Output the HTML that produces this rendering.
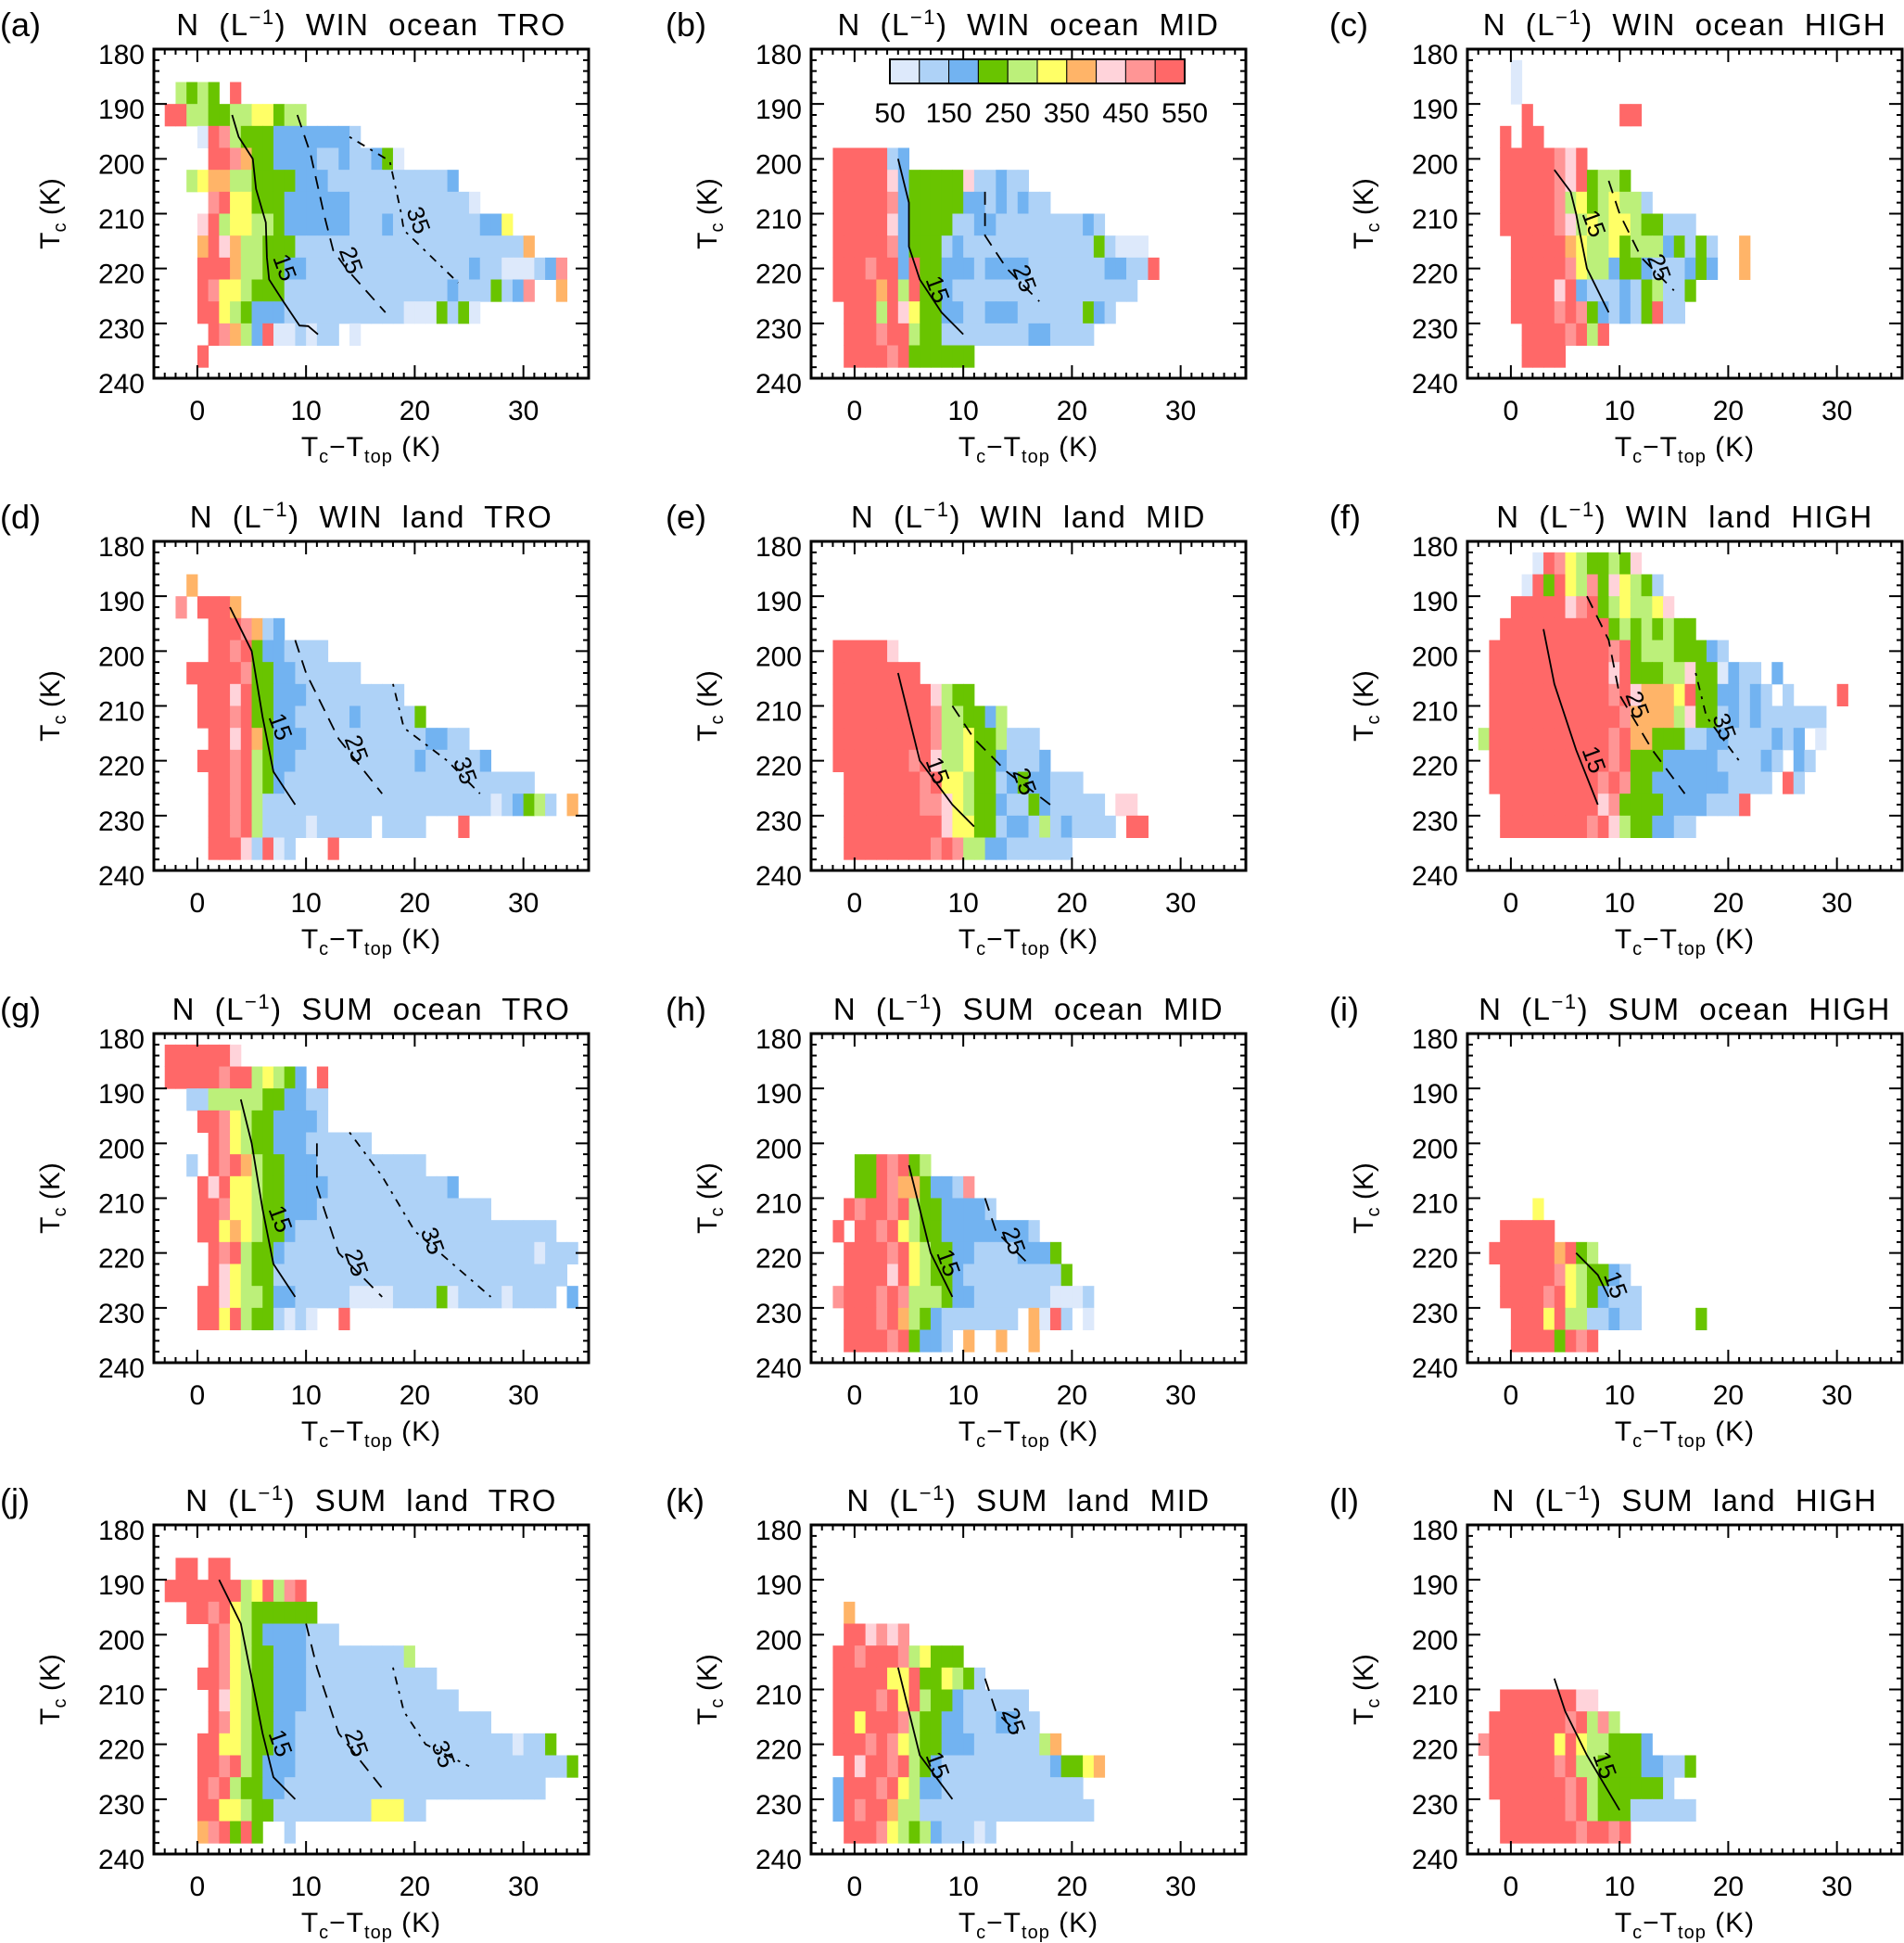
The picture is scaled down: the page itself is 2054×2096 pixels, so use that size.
<!DOCTYPE html>
<html><head><meta charset="utf-8">
<style>
html,body{margin:0;padding:0;background:#fff;}
svg{display:block;font-family:"Liberation Sans",sans-serif;}
</style></head>
<body>
<svg id="fig" width="2054" height="2096" viewBox="0 0 2054 2096" xmlns="http://www.w3.org/2000/svg"></svg>
<script>
// ---- data: colour class per cell (x = col-4 .. col-3 K, Tc = 182+4*row .. 186+4*row K) ----
const gridA=["","..5454.a",".aa55445566455","....1a9544433333332",".....aa9744333322322341","...5677554444333222222222223",".....9a66444333333222222222221","....8a566554333333222322222222336","....7a87554442222222222222222222227","....aaa7554433222222222222222322111239","....a966544422222222222222232224239..7","....aa654333222222222221114241",".....a9753a112122.1","....a"];
const gridB=["","","","","..aaaaa23","..aaaaa8344444822322","..aaaaa934444433232322","..aaaaa83444422332222222232","..aaaaa934442322222222222242111","..aaa9aa3a443332333322222223322a","..aaaa7a5a44322222222222222222","...aaa5a86443322333222222432","...aaa9aa54422222222332222","...aaaa9a444444"];
const gridC=["....1","....1",".....a........aa","...a.aa","...aaaaa98a","...aaaaa98a4554","...aaaaa956456552","...aaaaa9856566544222","....aaaaa76556455534242..7","....aaaaa96553443222343..7","....aaaa8a32223245224","....aaaa9a9432324a22",".....aaaa9a5a",".....aaaa"];
const gridD=["","...7","..9.aaa7",".....aaa9723",".....aa9a4332222","...aaaaa94433222222","....aaa8a44333222222222","....aaa9a4433222223222224",".....aa8a74333222222222223322","....aaa9a5433222222222223222223",".....aa9a54322222222222222222222222",".....aa9a5222222222222222222222123452.7",".....aa9a52222122222.2222...a",".....aaa82a12...a"];
const gridE=["","","","","..aaaaa8","..aaaaaaaa","..aaaaaaaaa8544","..aaaaaaaaa9554435","..aaaaaaaaa9556445222","..aaaaaaa9a85564432223","...aaaaaaa9a6654423433222","...aaaaaaa99865443224322222.88","...aaaaaaaaa8664423325232222.aa","...aaaaaaaa9a95533222222"];
const gridF=["......1a96544548",".....1a4a659486542","....aaaaa89a4565568","...aaaaaaaaaa45454544","..aaaaaaaaaaa9a455544432","..aaaaaaaaaaa8a444558441322.3","..aaaaaaaaaaa9a87776a4433232.2....a","..aaaaaaaaaaaa9777758442323222222",".5aaaaaaaaaaa9a7744422332222323.1","..aaaaaaaaaaa9a44433333222232.32","..aaaaaaaaaa9a94433333332222.a2","...aaaaaaaaa8944443333222a","...aaaaaaaa9a85443322",""];
const gridG=[".aaaaaa8",".aaaaa9aa56543.a","...2255555443322","....aa9654433332",".....a96544333222222","...2.a9a75443332222222222","....a8a665443333222222222223","....aa9665443332222222222222222","....aa6765443222222222222222222222222",".....a9a5443222222222222222222222221222",".....a86544222222222222222222222222222","....aa8655433222221111222241222212222.3","....aa6a5442121..a",""];
const gridH=["","","","","","....44a9a45","....44a97743329","...a9aa9a54433332","..a.aa9a6544333333332","...aaaa9a65443322223334","...aaaa8a654432222222224","..9aaa9a955543322222221112","...aaa9a75432222222.71a2.1","...aaaa9a4332.7..7..7"];
const gridI=["","","","","","","","......6","...aaaaa","..aaaaaa7a45","...aaaaa9654432","...aaaa9a6543222","....aaa6a5522322.....4","....aaaa4a9a"];
const gridJ=["","..aa.aa",".aaaaaaa56a59a","...aa9a65444444",".....a96543333222",".....a965443332222222225","....aa96544333222222222222",".....a8654433322222222222222",".....a9654433222222222222222222","....aa6654433222222222222222222221224","....aa9a5433322222222222222222222222224","....a9a54433222222222222222222222222","....aa6654422222222266622","....79a4a4..2"];
const gridK=["","","","...7","...aa8989","..aa9aaa956444","..aaaaa66a446542","..aaaa9a6a5443222222","..aa6aaa9544332223322","..aaa9a9654433322222257","...a8aa9a543222222222234467","..3aaa9a65332222222222222","..3a9aa7552222222222222222","...aaa96545322212"];
const gridL=["","","","","","","","...aaaaaaa88","..aaaaaaa9a595",".9aaaaaa6a6554443","..aaaaaa9a55444433224","..aaaaaaa9a54444442","...aaaaaa9a5444222222","...aaaaaaa9aa9a"];
// contours: [level, points...] in (Tc-Ttop, Tc)
const contA=[[15,[3.2,192],[3.8,196],[5.1,200],[5.4,205.5],[6.3,211.6],[6.4,218],[6.6,222],[7.9,226],[9.4,230.4],[10.2,230.5],[11.1,232]],[25,[9.2,192],[10.4,199],[11.7,210.5],[12.5,216.7],[13.7,220],[17.3,228]],[35,[14,196],[17.7,200.4],[18.7,209.4],[19,213],[24,222.6]]];
const contB=[[15,[4,200],[5,208],[5,216],[6,222],[8,228],[10,232]],[25,[12,206],[12,214],[14,220],[17,226]]];
const contC=[[15,[4,202],[5.5,206],[6,210],[7,220],[9,228]],[25,[9,204],[10,210],[12,218],[15,224]]];
const contD=[[15,[3,192],[5,200],[6,212],[7,222],[9,228]],[25,[9,198],[10,204],[13,216],[17,226]],[35,[18,206],[19,214],[23,220],[26,226]]];
const contE=[[15,[4,204],[5,212],[6,220],[9,228],[11,232]],[25,[9,210],[11,216],[14,222],[18,228]]];
const contF=[[15,[3,196],[4,206],[6,218],[8,228]],[25,[7,190],[9,198],[10,208],[13,218],[16,226]],[35,[17,204],[18,212],[21,220]]];
const contG=[[15,[4,192],[5,200],[6,212],[7,222],[9,228]],[25,[11,200],[11,208],[13,220],[17,228]],[35,[14,198],[17,206],[20,216],[27,228]]];
const contH=[[15,[5,204],[6,212],[7,220],[9,228]],[25,[12,210],[13,216],[16,222]]];
const contI=[[15,[6,220],[8,224],[9,228]]];
const contJ=[[15,[2,190],[4,198],[5,208],[6,218],[7,226],[9,230]],[25,[10,198],[11,206],[13,218],[17,228]],[35,[18,206],[19,214],[21,220],[25,224]]];
const contK=[[15,[4,206],[5,214],[6,222],[9,230]],[25,[12,208],[13,214],[15,218]]];
const contL=[[15,[4,208],[5,214],[7,222],[10,232]]];
const letters=["a","b","c","d","e","f","g","h","i","j","k","l"];
const seasons=["WIN","WIN","WIN","WIN","WIN","WIN","SUM","SUM","SUM","SUM","SUM","SUM"];
const surfaces=["ocean","ocean","ocean","land","land","land","ocean","ocean","ocean","land","land","land"];
const regions=["TRO","MID","HIGH","TRO","MID","HIGH","TRO","MID","HIGH","TRO","MID","HIGH"];
const xTicks=[0,10,20,30];
const yTicks=[180,190,200,210,220,230,240];
const cbLabels=[50,150,250,350,450,550];
const palette={"1":"#dde9fb","2":"#aed2f7","3":"#72b3f1","4":"#69c400","5":"#bcf07a","6":"#ffff66","7":"#ffb468","8":"#ffd3da","9":"#ff9595","a":"#ff6868"};
const cbClasses=["1","2","3","4","5","6","7","8","9","a"];

const grids=[gridA,gridB,gridC,gridD,gridE,gridF,gridG,gridH,gridI,gridJ,gridK,gridL];
const conts=[contA,contB,contC,contD,contE,contF,contG,contH,contI,contJ,contK,contL];
const NS="http://www.w3.org/2000/svg";
const svg=document.getElementById("fig");
function mk(tag,attrs,parent){const e=document.createElementNS(NS,tag);for(const k in attrs)e.setAttribute(k,attrs[k]);(parent||svg).appendChild(e);return e;}
const boxL=[166,875,1583],boxT=[53,584,1115,1645],W=469,H=355;
const X0=-4,X1=36,Y0=180,Y1=240;

for(let p=0;p<12;p++){
  const L=boxL[p%3],T=boxT[Math.floor(p/3)];
  const sx=v=>L+(v-X0)/(X1-X0)*W;
  const sy=v=>T+(v-Y0)/(Y1-Y0)*H;
  const g=mk("g",{});
  
  
  const cg=mk("g",{},g);
  
  
  grids[p].forEach((row,j)=>{
    for(let i=0;i<row.length;i++){
      const c=row[i]; if(c==='.')continue;
      const x0=i-4,y0=182+4*j;
      const r=mk("rect",{x:sx(x0),y:sy(y0),width:sx(x0+1)-sx(x0)+0.5,height:sy(y0+4)-sy(y0)+0.5,fill:palette[c]},cg);
      
      
    }
  });
  conts[p].forEach(cn=>{
    const lvl=cn[0],pts=cn.slice(1);
    const dash=lvl===15?"none":(lvl===25?"14,9":"3,7,9,7");
    const pl=mk("polyline",{points:pts.map(q=>sx(q[0])+","+sy(q[1])).join(" "),fill:"none",stroke:"#000","stroke-width":1.8,"stroke-dasharray":dash},g);
    
    
    const m=pts[Math.floor(pts.length/2)];
    const t=mk("text",{x:sx(m[0])+6,y:sy(m[1]),"font-size":26,transform:`rotate(70 ${sx(m[0])+6} ${sy(m[1])})`},g);
    t.textContent=lvl;
    
    
  });
  const b=mk("rect",{x:L,y:T,width:W,height:H,fill:"none",stroke:"#000","stroke-width":3},g);
  
  
  let d="";
  for(let v=-4;v<=36;v++){const x=sx(v);const len=(v%10===0)?14:6;d+=`M${x},${T}v${len}M${x},${T+H}v${-len}`;}
  for(let v=180;v<=240;v+=2){const y=sy(v);const len=(v%10===0)?14:6;d+=`M${L},${y}h${len}M${L+W},${y}h${-len}`;}
  const tk=mk("path",{d:d,stroke:"#000","stroke-width":2,fill:"none"},g);
  
  
  xTicks.forEach(v=>{const t=mk("text",{x:sx(v),y:T+H+45,"font-size":30,"text-anchor":"middle"},g);t.textContent=v;
    });
  yTicks.forEach(v=>{const t=mk("text",{x:L-10,y:sy(v)+16,"font-size":30,"text-anchor":"end"},g);t.textContent=v;
    });
  const tt=mk("text",{x:L+W/2,y:T-15,"font-size":33,"text-anchor":"middle","letter-spacing":"1.5","word-spacing":"10"},g);
  tt.innerHTML=`N (L<tspan dy="-12" font-size="22">−1</tspan><tspan dy="12">) ${seasons[p]} ${surfaces[p]} ${regions[p]}</tspan>`;
  
  const pl=mk("text",{x:[0,718,1434][p%3],y:T-14,"font-size":36},g);
  pl.textContent="("+letters[p]+")";
  
  const xl=mk("text",{x:L+W/2,y:T+H+84,"font-size":30,"text-anchor":"middle","letter-spacing":"1"},g);
  xl.innerHTML=`T<tspan dy="7" font-size="20">c</tspan><tspan dy="-7">−T</tspan><tspan dy="7" font-size="20">top</tspan><tspan dy="-7"> (K)</tspan>`;
  
  const yc=T+H/2,xc=L-102;
  const yl=mk("text",{x:xc,y:yc,"font-size":30,"text-anchor":"middle",transform:`rotate(-90 ${xc} ${yc})`},g);
  yl.innerHTML=`T<tspan dy="7" font-size="20">c</tspan><tspan dy="-7"> (K)</tspan>`;
  
}
const cb=mk("g",{});


const cbx=960,cbw=318,cby=64,cbh=26;
cbClasses.forEach((c,k)=>{const r=mk("rect",{x:cbx+k*cbw/10,y:cby,width:cbw/10,height:cbh,fill:palette[c],stroke:"#000","stroke-width":1},cb);
  });
const cbf=mk("rect",{x:cbx,y:cby,width:cbw,height:cbh,fill:"none",stroke:"#000","stroke-width":2},cb);

cbLabels.forEach((v,k)=>{const t=mk("text",{x:cbx+k*2*cbw/10,y:132,"font-size":30,"text-anchor":"middle"},cb);t.textContent=v;
  });
</script>
</body></html>
